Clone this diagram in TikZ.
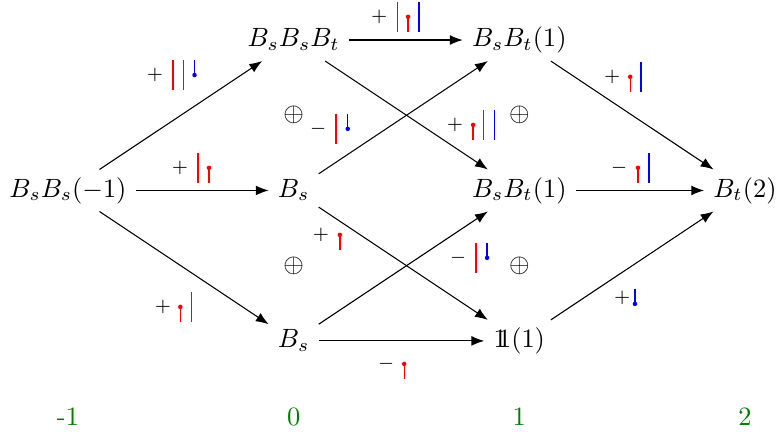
\documentclass[tikz,border=0pt]{standalone}
\usepackage{amsmath}
\usepackage{amssymb}
\usepackage{xcolor}
\usetikzlibrary{positioning,arrows.meta}

\newcommand{\unitobj}{\mathrm{1\!\!1}}

\tikzset{
  obj/.style={text height=1.6ex, text depth=0.45ex},
  map/.style={-{Latex[length=1.7mm,width=1.3mm]}},
  sgn/.style={font=\scriptsize, inner sep=0pt},
  deg/.style={text=green!50!black},
  pics/strand/.style={code={\draw[#1, line width=0.5pt] (0,-0.2) -- (0,0.2);}},
  pics/enddot/.style={code={\draw[#1, line width=0.5pt] (0,-0.2) -- (0,0); \fill[#1] (0,0) circle (0.03);}},
  pics/startdot/.style={code={\draw[#1, line width=0.5pt] (0,0.2) -- (0,0); \fill[#1] (0,0) circle (0.03);}},
}

\begin{document}
\begin{tikzpicture}
    \useasboundingbox (-0.904,-1.21) rectangle (9.452,4.532);

    \node[obj] (a) at (0,2) {$B_sB_s(-1)$};
    \node[obj] (b1) at (3,4) {$B_sB_sB_t$};
    \node[obj] (b2) at (3,2) {$B_s$};
    \node[obj] (b3) at (3,0) {$B_s$};
    \node[obj] (c1) at (6,4) {$B_sB_t(1)$};
    \node[obj] (c2) at (6,2) {$B_sB_t(1)$};
    \node[obj] (c3) at (6,0) {$\unitobj(1)$};
    \node[obj] (d) at (9,2) {$B_t(2)$};

    \node (o1) at (3,3) {$\oplus$};
    \node (o2) at (6,3) {$\oplus$};
    \node (o3) at (3,1) {$\oplus$};
    \node (o4) at (6,1) {$\oplus$};

    \draw[map] (a) -- (b1);
    \draw[map] (a) -- (b2);
    \draw[map] (a) -- (b3);
    \draw[map] (b1) -- (c1);
    \draw[map] (b1) -- (c2);
    \draw[map] (b2) -- (c1);
    \draw[map] (b2) -- (c3);
    \draw[map] (b3) -- (c2);
    \draw[map] (b3) -- (c3);
    \draw[map] (c1) -- (d);
    \draw[map] (c2) -- (d);
    \draw[map] (c3) -- (d);

    \node[sgn] (p1) at (1.157,3.534) {$+$};
    \path (p1) ++(0.24,0) pic{strand=red} ++(0.14,0) pic{strand=red} ++(0.145,0) pic{startdot=blue};
    \node[sgn] (p2) at (4.136,4.309) {$+$};
    \path (p2) ++(0.24,0) pic{strand=red} ++(0.145,0) pic{enddot=red} ++(0.145,0) pic{strand=blue};
    \node[sgn] (p3) at (1.489,2.301) {$+$};
    \path (p3) ++(0.24,0) pic{strand=red} ++(0.145,0) pic{enddot=red};
    \node[sgn] (p4) at (3.324,2.819) {$-$};
    \path (p4) ++(0.24,0) pic{strand=red} ++(0.155,0) pic{startdot=blue};
    \node[sgn] (p5) at (5.146,2.872) {$+$};
    \path (p5) ++(0.24,0) pic{enddot=red} ++(0.14,0) pic{strand=red} ++(0.145,0) pic{strand=blue};
    \node[sgn] (p6) at (7.234,3.511) {$+$};
    \path (p6) ++(0.24,0) pic{enddot=red} ++(0.145,0) pic{strand=blue};
    \node[sgn] (p7) at (7.327,2.301) {$-$};
    \path (p7) ++(0.25,0) pic{enddot=red} ++(0.145,0) pic{strand=blue};
    \node[sgn] (p8) at (3.364,1.41) {$+$};
    \path (p8) ++(0.25,0) pic{enddot=red};
    \node[sgn] (p9) at (5.186,1.104) {$-$};
    \path (p9) ++(0.24,0) pic{strand=red} ++(0.145,0) pic{startdot=blue};
    \node[sgn] (p10) at (1.263,0.452) {$+$};
    \path (p10) ++(0.23,0) pic{enddot=red} ++(0.145,0) pic{strand=red};
    \node[sgn] (p11) at (4.229,-0.306) {$-$};
    \path (p11) ++(0.24,0) pic{enddot=red};
    \node[sgn] (p12) at (7.367,0.572) {$+$};
    \path (p12) ++(0.17,-0.08) pic{startdot=blue};

    \node[deg] (g0) at (0,-1.01) {-1};
    \node[deg] (g1) at (3,-1.01) {0};
    \node[deg] (g2) at (6,-1.01) {1};
    \node[deg] (g3) at (9,-1.01) {2};
\end{tikzpicture}
\end{document}
